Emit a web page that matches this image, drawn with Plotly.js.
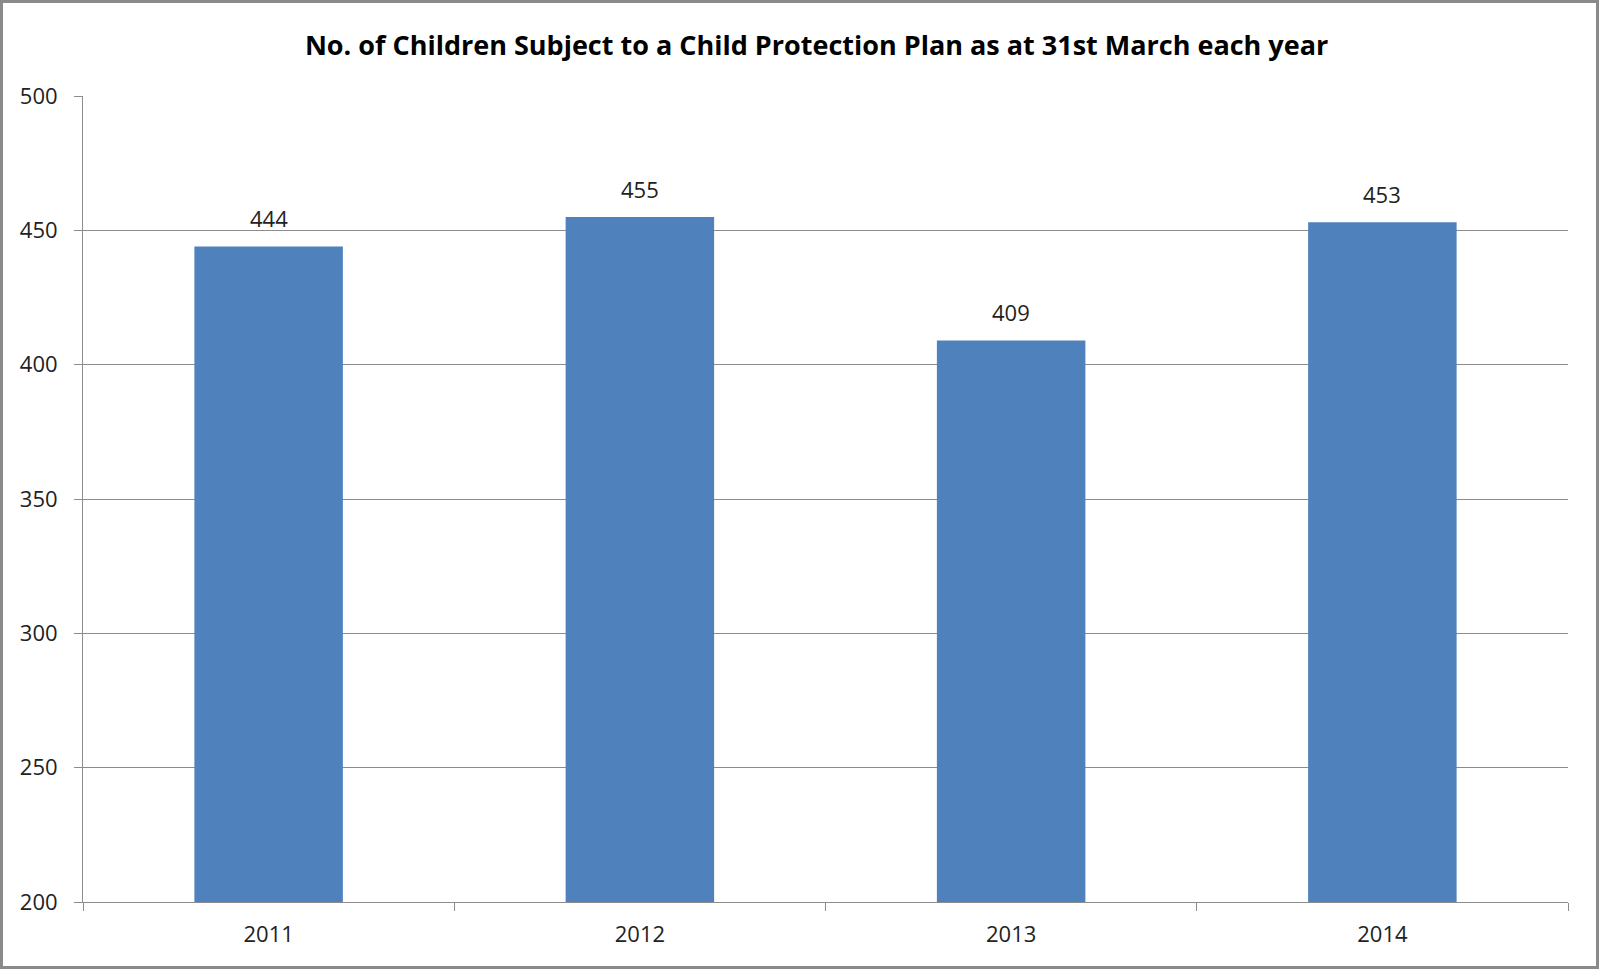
<!DOCTYPE html>
<html>
<head>
<meta charset="utf-8">
<script src="https://cdn.plot.ly/plotly-3.0.1.min.js"></script>
<style>
html, body { margin: 0; padding: 0; background: #fff; }
#frame { position: absolute; left: 0; top: 0; width: 1599px; height: 969px; box-sizing: border-box; border: 3px solid #8a8a8a; }
#chart { width: 1593px; height: 963px; }
</style>
</head>
<body>
<div id="frame"><div id="chart"></div></div>
<script>
const years = ['2011', '2012', '2013', '2014'];
const children = [444, 455, 409, 453];
const titleText = 'No. of Children Subject to a Child Protection Plan as at 31st March each year';

const fontFam = '"Open Sans", "Liberation Sans", Arial, sans-serif';

const trace = {
  type: 'bar',
  x: years,
  y: children,
  marker: { color: '#4F81BD' },
  hoverinfo: 'x+y'
};

const annotations = years.map((yr, i) => ({
  x: i, y: children[i], xref: 'x', yref: 'y',
  text: String(children[i]), showarrow: false,
  yanchor: 'bottom', yshift: 11,
  font: { family: fontFam, size: 22, color: '#222' }
}));

const layout = {
  width: 1593, height: 963,
  margin: { l: 80, r: 28, t: 93, b: 64 },
  paper_bgcolor: '#fff', plot_bgcolor: '#fff',
  title: {
    text: '<b>' + titleText + '</b>',
    font: { family: fontFam, size: 27, color: '#000' },
    x: 0.494, xanchor: 'center', xref: 'paper',
    y: 0.956, yanchor: 'middle', yref: 'container'
  },
  bargap: 0.6,
  showlegend: false,
  xaxis: {
    type: 'category',
    range: [-0.5, years.length - 0.5],
    showline: true, linecolor: '#8c8c8c', linewidth: 1,
    ticks: 'outside', tickson: 'boundaries', ticklen: 8, tickcolor: '#8c8c8c',
    showgrid: false,
    tickangle: 0,
    tickfont: { family: fontFam, size: 22, color: '#222' },
    ticklabelstandoff: 13
  },
  yaxis: {
    range: [200, 500], dtick: 50, tick0: 200,
    showline: true, linecolor: '#8c8c8c', linewidth: 1,
    ticks: 'outside', ticklen: 8, tickcolor: '#8c8c8c',
    showgrid: true, gridcolor: '#8c8c8c', gridwidth: 1,
    zeroline: false,
    ticklabelstandoff: 12,
    tickfont: { family: fontFam, size: 22, color: '#222' }
  },
  annotations: annotations
};

Plotly.newPlot('chart', [trace], layout, { displayModeBar: false, staticPlot: true });
</script>
</body>
</html>
